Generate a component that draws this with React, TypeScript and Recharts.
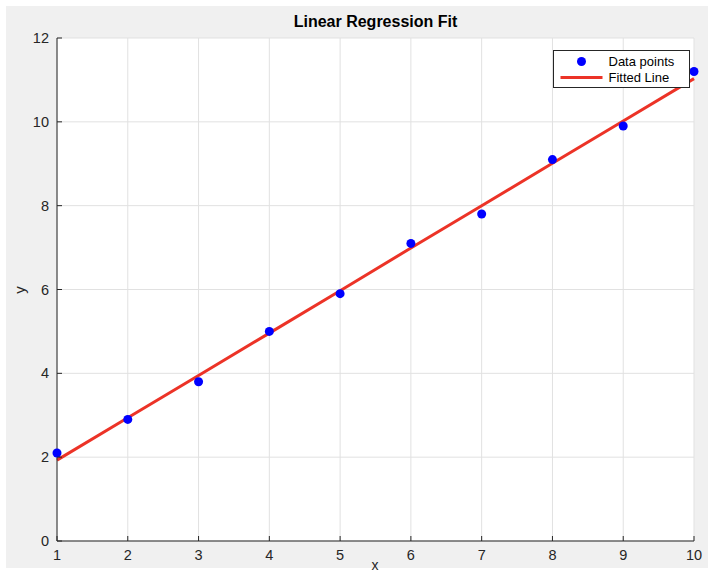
import React from 'react';
import { ComposedChart, XAxis, YAxis, CartesianGrid, Scatter, Line } from 'recharts';

const xValues = [1, 2, 3, 4, 5, 6, 7, 8, 9, 10];
const yValues = [2.1, 2.9, 3.8, 5.0, 5.9, 7.1, 7.8, 9.1, 9.9, 11.2];
const fittedValues = [1.93, 2.94, 3.95, 4.96, 5.97, 6.99, 8.0, 9.01, 10.02, 11.03];
const xTicks = [1, 2, 3, 4, 5, 6, 7, 8, 9, 10];
const yTicks = [0, 2, 4, 6, 8, 10, 12];
const seriesNames = ['Data points', 'Fitted Line'];

const pointData = xValues.map((x, i) => ({ x, y: yValues[i] }));
const lineData = xValues.map((x, i) => ({ x, fit: fittedValues[i] }));

const FONT = '"Liberation Sans", Arial, Helvetica, sans-serif';
const AXIS_COLOR = '#262626';
const RED = '#ec3327';
const BLUE = '#0000ff';

const XTick = (props: any) => {
  const { x, y, payload } = props;
  return (
    <g>
      <line x1={x} y1={y} x2={x} y2={y - 5} stroke={AXIS_COLOR} strokeWidth={1} />
      <text x={x} y={y + 19} textAnchor="middle" fontSize={14.5} fill={AXIS_COLOR} fontFamily={FONT}>
        {payload.value}
      </text>
    </g>
  );
};

const YTick = (props: any) => {
  const { x, y, payload } = props;
  return (
    <g>
      <line x1={x} y1={y} x2={x + 5} y2={y} stroke={AXIS_COLOR} strokeWidth={1} />
      <text x={x - 8} y={y + 5} textAnchor="end" fontSize={14.5} fill={AXIS_COLOR} fontFamily={FONT}>
        {payload.value}
      </text>
    </g>
  );
};

export default function App() {
  return (
    <div style={{ position: 'absolute', left: 0, top: 0, width: 714, height: 574, background: '#ffffff', overflow: 'hidden' }}>
      <div style={{ position: 'absolute', left: 6, top: 6, width: 702, height: 562, background: '#f0f0f0' }} />
      <div
        style={{
          position: 'absolute',
          left: 57,
          width: 637,
          top: 13,
          textAlign: 'center',
          fontFamily: FONT,
          fontWeight: 'bold',
          fontSize: 16,
          color: '#000',
        }}
      >
        Linear Regression Fit
      </div>
      <div style={{ position: 'absolute', left: 0, top: 0 }}>
        <ComposedChart width={714} height={574} margin={{ top: 38, right: 20, bottom: 0, left: 0 }}>
          <CartesianGrid stroke="#e1e1e1" fill="#ffffff" horizontalValues={yTicks} verticalValues={xTicks} />
          <XAxis
            type="number"
            dataKey="x"
            domain={[1, 10]}
            ticks={xTicks}
            height={33}
            stroke={AXIS_COLOR}
            tickLine={false}
            tickSize={0}
            tickMargin={0}
            tick={<XTick />}
            interval={0}
          />
          <YAxis
            type="number"
            domain={[0, 12]}
            ticks={yTicks}
            width={57}
            stroke={AXIS_COLOR}
            tickLine={false}
            tickSize={0}
            tickMargin={0}
            tick={<YTick />}
            interval={0}
          />
          <Line
            data={lineData}
            dataKey="fit"
            name={seriesNames[1]}
            type="linear"
            stroke={RED}
            strokeWidth={3}
            dot={false}
            activeDot={false}
            isAnimationActive={false}
          />
          <Scatter
            data={pointData}
            dataKey="y"
            name={seriesNames[0]}
            fill={BLUE}
            isAnimationActive={false}
            shape={(p: any) => <circle cx={p.cx} cy={p.cy} r={4.5} fill={BLUE} />}
          />
        </ComposedChart>
      </div>
      <svg width={714} height={574} style={{ position: 'absolute', left: 0, top: 0, pointerEvents: 'none' }}>
        <g transform="translate(553.5 50.5)">
          <rect x={0} y={0} width={136} height={37} fill="#ffffff" stroke={AXIS_COLOR} strokeWidth={1} />
          <circle cx={28} cy={11} r={4.5} fill={BLUE} />
          <line x1={7} y1={27} x2={49} y2={27} stroke={RED} strokeWidth={3} />
          <text x={55} y={15} fontSize={13} fontFamily={FONT} fill="#000">{seriesNames[0]}</text>
          <text x={55} y={31} fontSize={13} fontFamily={FONT} fill="#000">{seriesNames[1]}</text>
        </g>
        <text x={25} y={290} transform="rotate(-90 25 290)" textAnchor="middle" fontSize={15} fontFamily={FONT} fill={AXIS_COLOR}>
          y
        </text>
        <text x={375} y={570} textAnchor="middle" fontSize={14} fontFamily={FONT} fill={AXIS_COLOR}>
          x
        </text>
      </svg>
    </div>
  );
}
